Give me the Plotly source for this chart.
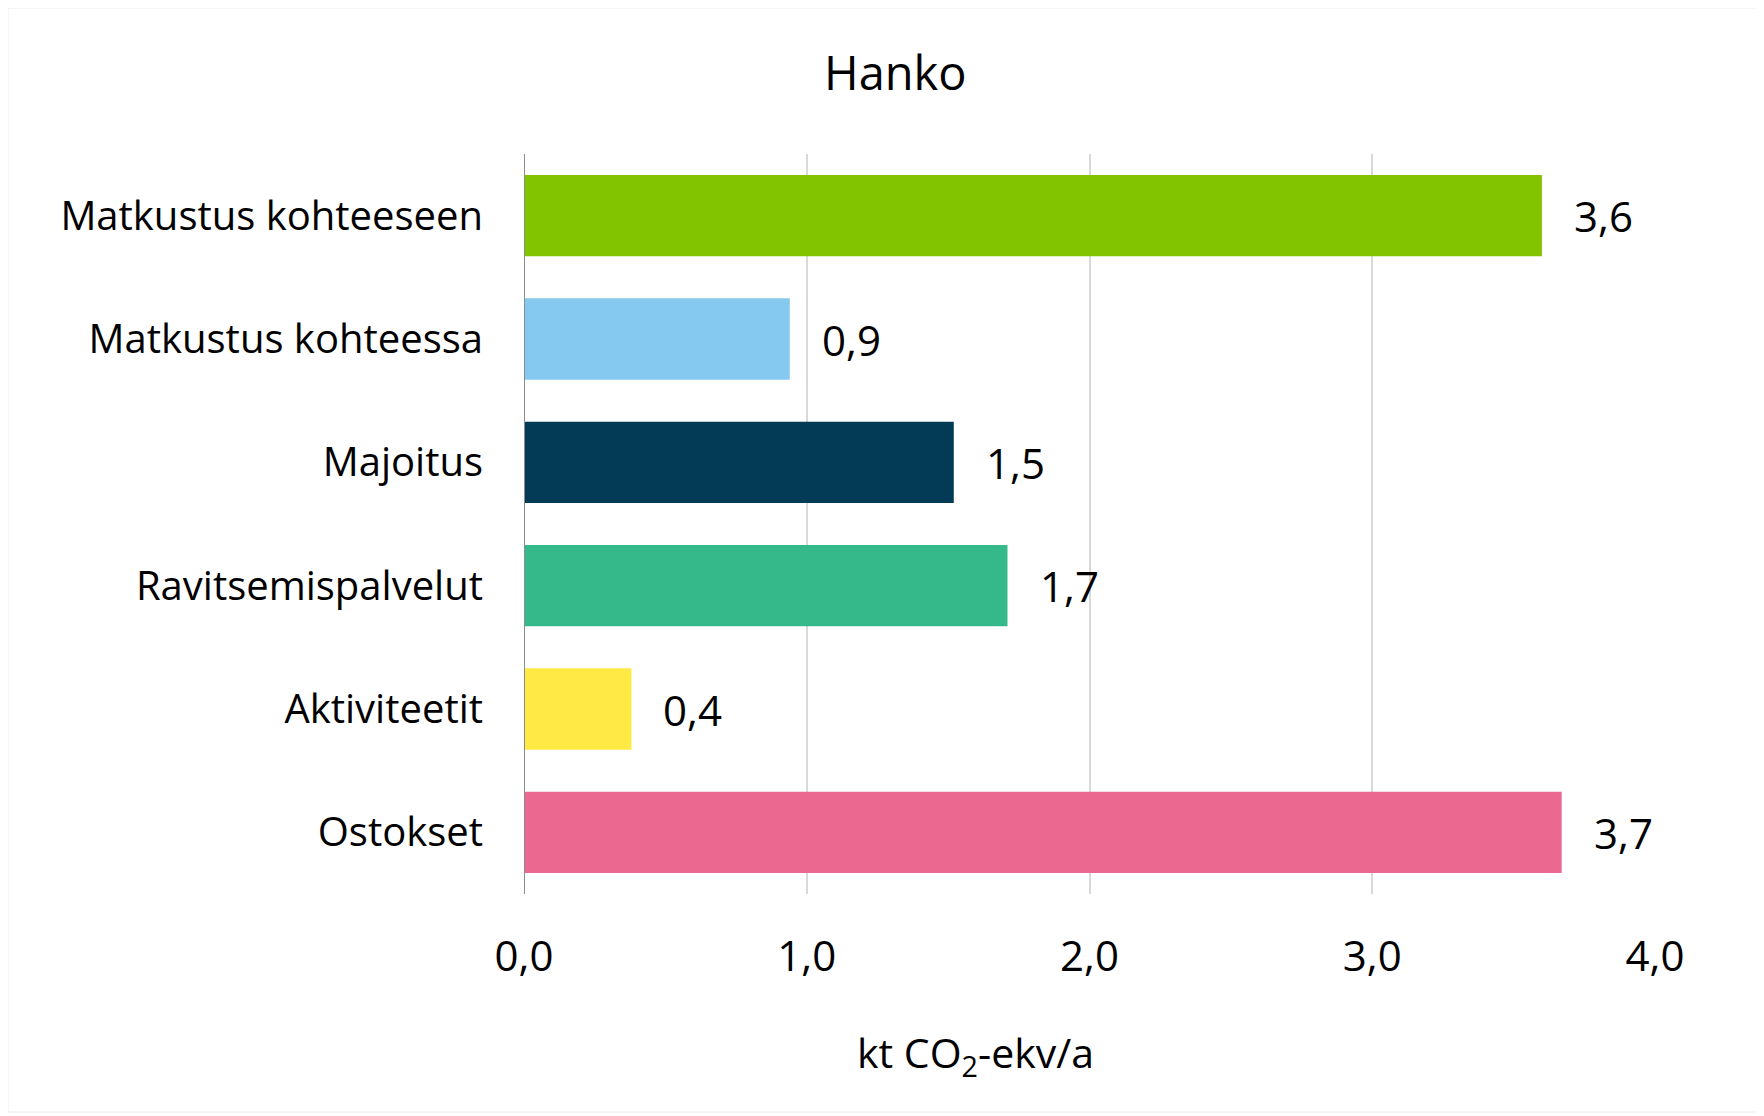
import plotly.graph_objects as go

categories = ["Matkustus kohteeseen", "Matkustus kohteessa", "Majoitus",
              "Ravitsemispalvelut", "Aktiviteetit", "Ostokset"]
values = [3.60, 0.94, 1.52, 1.71, 0.38, 3.67]
value_labels = ["3,6", "0,9", "1,5", "1,7", "0,4", "3,7"]
colors = ["#82C400", "#86C9F0", "#033A56", "#36B98A", "#FFE945", "#EB6890"]
x_ticks = [0, 1, 2, 3, 4]

FONT = "Open Sans"
FS_CAT = 40
FS_NUM = 42
OFF = 8  # page body margin in the browser
W, H = 1764 - OFF, 1116 - OFF
L, T = 524 - OFF, 154 - OFF
PW, PH = 1131, 740
R, B = W - L - PW, H - T - PH

fig = go.Figure()
fig.add_trace(go.Bar(
    y=categories, x=values, orientation="h",
    marker=dict(color=colors, line=dict(width=0)),
    width=0.66, hoverinfo="skip",
))

for c, v, t in zip(categories, values, value_labels):
    fig.add_annotation(x=v, y=c, text=t, showarrow=False, xanchor="left",
                       xshift=30, font=dict(family=FONT, size=FS_NUM, color="#000000"))

fig.add_annotation(x=(895 - OFF - L) / PW, y=1 + (T - (72 - OFF)) / PH,
                   xref="paper", yref="paper",
                   text="Hanko", showarrow=False, xanchor="center", yanchor="middle",
                   font=dict(family=FONT, size=47, color="#000000"))
fig.add_annotation(x=(975 - OFF - L) / PW, y=-((1054 - OFF) - (T + PH)) / PH,
                   xref="paper", yref="paper",
                   text="kt CO<sub>2</sub>-ekv/a", showarrow=False, xanchor="center",
                   yanchor="middle", font=dict(family=FONT, size=41, color="#000000"))

fig.add_shape(type="rect", xref="paper", yref="paper",
              x0=-(L - 0) / PW, x1=1 + (R - 4) / PW,
              y0=-(B - 4) / PH, y1=1 + (T - 0) / PH,
              line=dict(color="#EBEBEB", width=1), layer="below")

fig.update_layout(
    width=W, height=H,
    margin=dict(l=L, r=R, t=T, b=B, autoexpand=False),
    paper_bgcolor="#FFFFFF", plot_bgcolor="#FFFFFF",
    separators=", ",
    showlegend=False,
    font=dict(family=FONT, size=FS_CAT, color="#000000"),
)
fig.update_xaxes(
    range=[0, 4], tickvals=x_ticks, tickformat=".1f",
    showgrid=True, gridcolor="#D9D9D9", gridwidth=2,
    zeroline=False, showline=False, ticks="",
    ticklabelstandoff=34,
    tickfont=dict(family=FONT, size=FS_NUM, color="#000000"),
    fixedrange=True,
)
fig.update_yaxes(
    autorange="reversed", showgrid=False, zeroline=False,
    showline=False, ticks="",
    ticklabelstandoff=40,
    tickfont=dict(family=FONT, size=FS_CAT, color="#000000"),
    fixedrange=True,
)
fig.add_shape(type="line", xref="x", yref="paper", x0=0, x1=0, y0=0, y1=1,
              line=dict(color="#8C8C8C", width=2))

fig.write_html("out.html", config={"displayModeBar": False})
